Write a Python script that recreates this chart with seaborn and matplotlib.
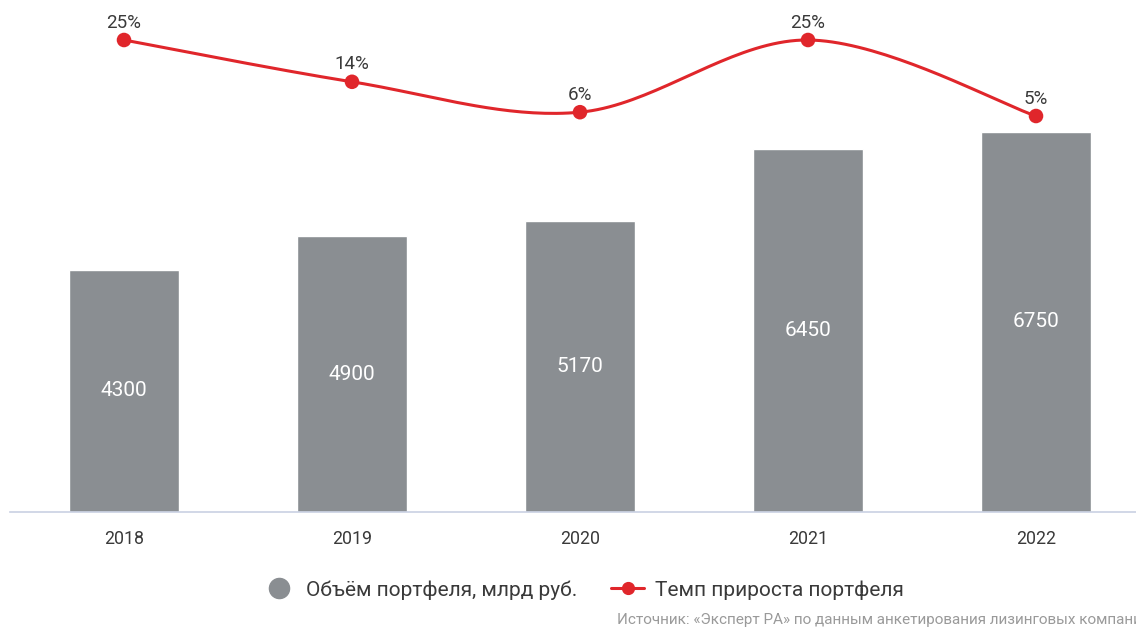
import numpy as np
import pandas as pd
import seaborn as sns
import matplotlib.pyplot as plt
from matplotlib.lines import Line2D

# data
years = ["2018", "2019", "2020", "2021", "2022"]
portfolio = [4300, 4900, 5170, 6450, 6750]
growth = [25, 14, 6, 25, 5]

bar_color = "#8a8e92"
red = "#e0262b"
text_color = "#3a3a3a"

sns.set_theme(style="white")
plt.rcParams["font.family"] = ["Roboto", "DejaVu Sans"]


def smooth_path(xs, ys, n=40):
    """Catmull-Rom curve through the points, just for drawing the line"""
    xs = np.asarray(xs, float)
    ys = np.asarray(ys, float)
    px = np.r_[xs[0], xs, xs[-1]]
    py = np.r_[ys[0], ys, ys[-1]]
    out_x, out_y = [], []
    t = np.linspace(0, 1, n)
    for i in range(1, len(px) - 2):
        for p, out in ((px, out_x), (py, out_y)):
            p0, p1, p2, p3 = p[i - 1], p[i], p[i + 1], p[i + 2]
            out.extend(0.5 * (2 * p1 + (-p0 + p2) * t
                              + (2 * p0 - 5 * p1 + 4 * p2 - p3) * t ** 2
                              + (-p0 + 3 * p1 - 3 * p2 + p3) * t ** 3))
    return np.array(out_x), np.array(out_y)


df = pd.DataFrame({"year": years, "portfolio": portfolio, "growth": growth})

W, H = 1136, 627
fig = plt.figure(figsize=(W / 100, H / 100), dpi=100)
ax = fig.add_axes([10 / W, (H - 512) / H, (W - 10) / W, 512 / H])

#bars
sns.barplot(data=df, x="year", y="portfolio", color=bar_color, width=0.48,
            saturation=1, ax=ax)
ax.set_xlim(-0.5, (W - 124) / 228)
ax.set_ylim(0, 512 / 0.0563)
ax.set_xlabel("")
ax.set_ylabel("")
ax.set_yticks([])
ax.tick_params(axis="x", length=0, pad=13, labelsize=12.8, colors=text_color)
for s in ["top", "right", "left"]:
    ax.spines[s].set_visible(False)
ax.spines["bottom"].set_color("#c9d1e3")
ax.spines["bottom"].set_linewidth(1.2)

for i, v in enumerate(portfolio):
    ax.text(i, v / 2, str(v), ha="center", va="center", color="white",
            fontsize=15)

#growth line on twin axis
ax2 = ax.twinx()
ax2.set_ylim(25 - 472 / 3.8, 25 + 40 / 3.8)
sx, sy = smooth_path(range(len(years)), growth)
ax2.plot(sx, sy, color=red, lw=2.2, solid_capstyle="round")
sns.scatterplot(x=range(len(years)), y=growth, color=red, s=110,
                edgecolor="none", ax=ax2, zorder=3)
for i, v in enumerate(growth):
    ax2.annotate(f"{v}%", (i, v), xytext=(0, 6), textcoords="offset points",
                 ha="center", va="bottom", fontsize=13.5, color=text_color)
ax2.set_yticks([])
for s in ax2.spines.values():
    s.set_visible(False)

#legend
handles = [
    Line2D([], [], ls="none", marker="o", markersize=14.5, color=bar_color),
    Line2D([], [], color=red, lw=2.2, marker="o", markersize=8.5),
]
fig.legend(handles, ["Объём портфеля, млрд руб.", "Темп прироста портфеля"],
           loc="center", bbox_to_anchor=(583 / W, 1 - 590 / H), ncol=2,
           frameon=False, fontsize=15, handlelength=1.6, columnspacing=1.6,
           handletextpad=0.5, labelcolor=text_color)

fig.text(617 / W, 1 - 620 / H,
         "Источник: «Эксперт РА» по данным анкетирования лизинговых компаний",
         fontsize=11, color="#9a9a9a", ha="left", va="center")

fig.savefig("out.png", dpi=100)
